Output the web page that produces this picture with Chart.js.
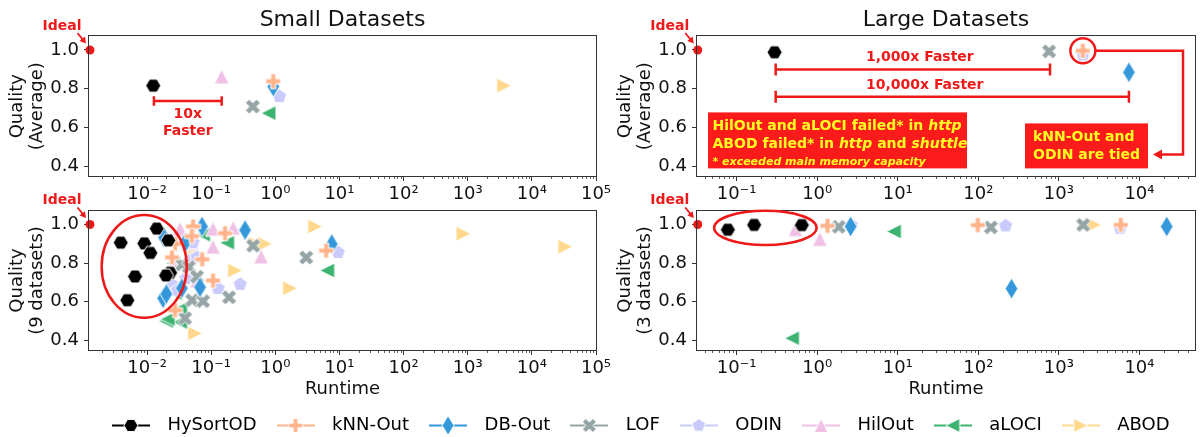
<!DOCTYPE html>
<html>
<head>
<meta charset="utf-8">
<script src="https://cdn.jsdelivr.net/npm/chart.js@4.4.1/dist/chart.umd.min.js"></script>
<style>
html,body{margin:0;padding:0;background:#fff;overflow:hidden;width:1203px;height:437px;}
body{position:relative;}
canvas{position:absolute;}
</style>
</head>
<body>
<canvas id="tl" width="620" height="205" style="left:0px;top:0px"></canvas>
<canvas id="tr" width="595" height="205" style="left:608px;top:0px"></canvas>
<canvas id="bl" width="620" height="220" style="left:0px;top:185px"></canvas>
<canvas id="br" width="595" height="220" style="left:608px;top:185px"></canvas>
<canvas id="lg" width="1203" height="100" style="left:0px;top:398px"></canvas>
<script>
// ---------------- DATA ----------------
const methods = ['HySortOD','kNN-Out','DB-Out','LOF','ODIN','HilOut','aLOCI','ABOD'];
const yTickValues = [0.4, 0.6, 0.8, 1.0];
const smallXTickValues = [1e-2, 1e-1, 1e0, 1e1, 1e2, 1e3, 1e4, 1e5];
const largeXTickValues = [1e-1, 1e0, 1e1, 1e2, 1e3, 1e4];
const idealPoint = [1.0];            // ideal quality, drawn at the fastest runtime of each axis
const smallIdealRuntime = 0.00129;
const largeIdealRuntime = 0.0329;

// Small datasets, averages (runtime s, quality)
const smallAvgRuntime = [0.0125, 0.93, 0.93, 0.446, 1.16, 0.146, 0.78, 3700];
const smallAvgQuality = [0.816, 0.839, 0.811, 0.708, 0.76, 0.863, 0.674, 0.816];
// Large datasets, averages (null = failed)
const largeAvgRuntime = [0.296, 1983, 7400, 755, 1990, null, null, null];
const largeAvgQuality = [0.988, 0.996, 0.885, 0.993, 0.975, null, null, null];

// Small datasets, per dataset (9 datasets)
const smallRuntime = [
  [0.01416, 0.00389, 0.00908, 0.0215, 0.01125, 0.0065, 0.0229, 0.0198, 0.00493],
  [0.0523, 0.0274, 0.0245, 0.107, 0.0274, 6.2, 0.05, 0.0725, 0.165],
  [0.0721, 0.338, 0.0184, 0.0392, 0.0671, 0.0178, 7.6, 0.02, 0.035],
  [0.451, 0.0352, 0.0504, 0.0748, 0.19, 0.0392, 3.03, 0.045, 0.06],
  [0.052, 0.0255, 0.128, 0.283, 9.55, 0.05, 0.04, 0.03, 0.06],
  [0.0327, 0.107, 0.22, 0.107, 0.6, 0.0603, 0.05, 0.0255, 0.128],
  [0.0748, 0.177, 0.0257, 0.0274, 0.0327, 0.0198, 0.0327, 6.43, 0.021],
  [0.0561, 0.236, 0.5, 0.693, 1.7, 4.18, 0.0561, 859, 33200]
];
const smallQuality = [
  [0.979, 0.906, 0.902, 0.918, 0.853, 0.731, 0.75, 0.736, 0.608],
  [0.99, 0.90, 0.83, 0.71, 0.556, 0.865, 0.94, 0.82, 0.955],
  [0.99, 0.971, 0.932, 0.906, 0.675, 0.618, 0.899, 0.64, 0.67],
  [0.89, 0.793, 0.608, 0.603, 0.623, 0.515, 0.829, 0.78, 0.73],
  [0.906, 0.685, 0.669, 0.69, 0.855, 0.82, 0.72, 0.66, 0.83],
  [0.978, 0.978, 0.983, 0.885, 0.834, 0.71, 0.905, 0.80, 0.69],
  [0.947, 0.906, 0.798, 0.644, 0.562, 0.5, 0.495, 0.762, 0.51],
  [0.848, 0.762, 0.9, 0.9, 0.67, 0.99, 0.436, 0.952, 0.885]
];
// Large datasets, per dataset (3 datasets; failed runs omitted)
const largeRuntime = [
  [0.0778, 0.165, 0.644],
  [1.34, 98.4, 5850],
  [2.6, 258, 21800],
  [1.85, 143, 2000],
  [2.64, 218, 5740],
  [0.535, 1.08],
  [8.96, 0.486],
  [2755]
];
const largeQuality = [
  [0.973, 0.998, 0.997],
  [0.993, 0.997, 0.998],
  [0.99, 0.668, 0.99],
  [0.988, 0.985, 0.998],
  [0.997, 0.993, 0.98],
  [0.976, 0.925],
  [0.964, 0.411],
  [0.998]
];

// ---------------- STYLE ----------------
const colors = ['#000000','#ffb48c','#3498db','#95a5a6','#cacafc','#f0c1e6','#3cb371','#ffd88c'];
const shapes = ['hex','plus','thinDiamond','xFilled','pentagon','triUp','triLeft','triRight'];
const MS = 15;
const RED = '#ee1a1a';
const BOXRED = '#fb1b1b';
const YEL = '#ffff22';
const FONT = '"DejaVu Sans"';

Chart.defaults.font.family = FONT;

function shapePath(ctx, shape, S) {
  const r = S / 2;
  ctx.beginPath();
  const poly = pts => pts.forEach((p, i) => i ? ctx.lineTo(p[0], p[1]) : ctx.moveTo(p[0], p[1]));
  switch (shape) {
    case 'hex': {
      const p = []; for (let k = 0; k < 6; k++) { const a = k * Math.PI / 3; p.push([r * Math.cos(a), r * Math.sin(a)]); } poly(p); break;
    }
    case 'pentagon': {
      const p = []; for (let k = 0; k < 5; k++) { const a = -Math.PI / 2 + k * 2 * Math.PI / 5; p.push([r * Math.cos(a), r * Math.sin(a)]); } poly(p); break;
    }
    case 'plus': {
      const q = [[1,0],[2,0],[2,1],[3,1],[3,2],[2,2],[2,3],[1,3],[1,2],[0,2],[0,1],[1,1]];
      poly(q.map(([a, b]) => [(a / 3 - 0.5) * S, (b / 3 - 0.5) * S])); break;
    }
    case 'xFilled': {
      const q = [[0.25,0],[0.5,0.25],[0.75,0],[1,0.25],[0.75,0.5],[1,0.75],[0.75,1],[0.5,0.75],[0.25,1],[0,0.75],[0.25,0.5],[0,0.25]];
      poly(q.map(([a, b]) => [(a - 0.5) * S, (b - 0.5) * S])); break;
    }
    case 'thinDiamond': poly([[0, -0.707 * S], [0.424 * S, 0], [0, 0.707 * S], [-0.424 * S, 0]]); break;
    case 'triUp': poly([[0, -r], [r, r], [-r, r]]); break;
    case 'triLeft': poly([[-r, 0], [r, -r], [r, r]]); break;
    case 'triRight': poly([[r, 0], [-r, -r], [-r, r]]); break;
  }
  ctx.closePath();
}
function markerImage(shape, color, S, lineLen) {
  const w = Math.ceil(lineLen ? lineLen : S + 6), h = Math.ceil(1.414 * S + 5);
  const c = document.createElement('canvas'); c.width = w; c.height = h;
  const g = c.getContext('2d');
  if (lineLen) { g.strokeStyle = color; g.lineWidth = 2; g.beginPath(); g.moveTo(0, h / 2); g.lineTo(w, h / 2); g.stroke(); }
  g.translate(w / 2, h / 2);
  shapePath(g, shape, S);
  g.fillStyle = color; g.fill();
  g.strokeStyle = '#ffffff'; g.lineWidth = 1; g.stroke();
  return c;
}
const markerImgs = shapes.map((s, i) => markerImage(s, colors[i], MS));
const legendImgs = shapes.map((s, i) => markerImage(s, colors[i], 14, 38));

const SUP = {'-':'\u207B','0':'\u2070','1':'\u00B9','2':'\u00B2','3':'\u00B3','4':'\u2074','5':'\u2075','6':'\u2076','7':'\u2077','8':'\u2078','9':'\u2079'};
function powLabel(v) { const e = Math.round(Math.log10(v)); return '10' + String(e).split('').map(c => SUP[c]).join(''); }

// ---------------- PLUGINS ----------------
const framePlugin = {
  id: 'frame',
  afterDraw(chart) {
    const {ctx, chartArea: a, scales: {x}} = chart;
    ctx.save();
    ctx.strokeStyle = '#333'; ctx.lineWidth = 1;
    ctx.strokeRect(Math.round(a.left) - 0.5, Math.round(a.top) - 0.5, Math.round(a.right - a.left) + 1, Math.round(a.bottom - a.top) + 1);
    ctx.lineWidth = 0.8; ctx.beginPath();
    const lo = Math.floor(Math.log10(x.min)), hi = Math.ceil(Math.log10(x.max));
    for (let k = lo; k <= hi; k++) for (let m = 2; m <= 9; m++) {
      const v = m * Math.pow(10, k);
      if (v < x.min || v > x.max) continue;
      const px = Math.round(x.getPixelForValue(v)) + 0.5;
      ctx.moveTo(px, Math.round(a.bottom)); ctx.lineTo(px, Math.round(a.bottom) + 3);
    }
    ctx.stroke();
    ctx.restore();
  }
};
function arrowHead(ctx, tx, ty, ang, len, half) {
  ctx.beginPath();
  ctx.moveTo(tx, ty);
  ctx.lineTo(tx - len * Math.cos(ang) + half * Math.sin(ang), ty - len * Math.sin(ang) - half * Math.cos(ang));
  ctx.lineTo(tx - len * Math.cos(ang) - half * Math.sin(ang), ty - len * Math.sin(ang) + half * Math.cos(ang));
  ctx.closePath(); ctx.fill();
}
function drawIdeal(ctx, X, Y, xv) {
  const px = X(xv), py = Y(1.0);
  ctx.fillStyle = RED; ctx.strokeStyle = RED;
  ctx.font = 'bold 14px ' + FONT; ctx.textAlign = 'center'; ctx.textBaseline = 'middle';
  ctx.fillText('Ideal', px - 28, py - 24);
  const sx = px - 12.5, sy = py - 17, tx = px - 4, ty = py - 6.5;
  const ang = Math.atan2(ty - sy, tx - sx);
  ctx.lineWidth = 1.8; ctx.beginPath(); ctx.moveTo(sx, sy); ctx.lineTo(tx - 5 * Math.cos(ang), ty - 5 * Math.sin(ang)); ctx.stroke();
  arrowHead(ctx, tx, ty, ang, 6, 3.5);
}
function bracket(ctx, x1, x2, y, cap) {
  ctx.strokeStyle = RED; ctx.lineWidth = 2.5;
  ctx.beginPath();
  ctx.moveTo(x1, y); ctx.lineTo(x2, y);
  ctx.moveTo(x1, y - cap); ctx.lineTo(x1, y + cap);
  ctx.moveTo(x2, y - cap); ctx.lineTo(x2, y + cap);
  ctx.stroke();
}
function ellipseBox(ctx, X, Y, x1, x2, y1, y2) {
  const a = X(x1), b = X(x2), c = Y(y1), d = Y(y2);
  ctx.strokeStyle = RED; ctx.lineWidth = 2.5;
  ctx.beginPath(); ctx.ellipse((a + b) / 2, (c + d) / 2, Math.abs(b - a) / 2, Math.abs(d - c) / 2, 0, 0, 2 * Math.PI); ctx.stroke();
}
function runs(ctx, x, y, parts, size) {
  ctx.textAlign = 'left'; ctx.textBaseline = 'middle';
  for (const [t, it] of parts) {
    ctx.font = (it ? 'italic ' : '') + 'bold ' + size + 'px ' + FONT;
    ctx.fillText(t, x, y); x += ctx.measureText(t).width;
  }
}
function annotPlugin(draw) {
  return {
    id: 'annot',
    afterDraw(chart) {
      const {ctx, chartArea: a, scales} = chart;
      const X = v => scales.x.getPixelForValue(v), Y = v => scales.y.getPixelForValue(v);
      ctx.save(); draw(ctx, X, Y, a); ctx.restore();
    }
  };
}

// ---------------- CHARTS ----------------
function scatterDatasets(runtimes, qualities, single, idealX) {
  const ds = methods.map((m, i) => {
    let pts = [];
    if (single) { if (runtimes[i] != null) pts = [{x: runtimes[i], y: qualities[i]}]; }
    else pts = runtimes[i].map((r, k) => ({x: r, y: qualities[i][k]}));
    return {label: m, data: pts, pointStyle: markerImgs[i], pointRadius: 7, pointHoverRadius: 7, backgroundColor: colors[i], borderColor: colors[i]};
  });
  ds.push({label: 'Ideal', data: idealPoint.map(q => ({x: idealX, y: q})), pointStyle: 'circle', pointRadius: 4.5, pointHoverRadius: 4.5, backgroundColor: RED, borderColor: RED, borderWidth: 0, clip: false});
  return ds;
}
function panel(id, o) {
  const tickFont = {family: FONT, size: 18};
  new Chart(document.getElementById(id), {
    type: 'scatter',
    data: {datasets: o.datasets},
    options: {
      responsive: false, animation: false, events: [],
      layout: {padding: o.pad},
      plugins: {
        legend: {display: false}, tooltip: {enabled: false},
        title: o.title ? {display: true, text: o.title, fullSize: false, padding: {top: 7, bottom: 3}, font: {family: FONT, size: 22, weight: 'normal', lineHeight: 1.2}, color: '#111'} : {display: false}
      },
      scales: {
        x: {
          type: 'logarithmic', min: o.xMin, max: o.xMax, bounds: 'data', position: 'bottom',
          afterBuildTicks: s => { s.ticks = o.xTicks.map(v => ({value: v})); },
          afterFit: s => { s.height = o.xH; s.paddingLeft = 0; s.paddingRight = 0; },
          ticks: {callback: v => powLabel(v), font: tickFont, color: '#111', padding: 3, maxRotation: 0, autoSkip: false},
          grid: {drawOnChartArea: false, drawTicks: true, tickLength: 5, tickColor: '#333', tickWidth: 1},
          border: {display: false},
          title: o.xTitle ? {display: true, text: o.xTitle, font: {family: FONT, size: 18, lineHeight: 1.2}, color: '#111', padding: {top: 0, bottom: 2}} : {display: false}
        },
        y: {
          type: 'linear', min: 0.35, max: 1.07, position: 'left',
          afterBuildTicks: s => { s.ticks = yTickValues.map(v => ({value: v})); },
          afterFit: s => { s.width = 89; s.paddingTop = 0; s.paddingBottom = 0; },
          ticks: {callback: v => Number(v).toFixed(1), font: tickFont, color: '#111', padding: 5},
          grid: {drawOnChartArea: false, drawTicks: true, tickLength: 5, tickColor: '#333', tickWidth: 1},
          border: {display: false},
          title: {display: true, text: o.yTitle, font: {family: FONT, size: 18, lineHeight: 1.11}, color: '#111', padding: {top: 7, bottom: 0}}
        }
      }
    },
    plugins: [framePlugin, annotPlugin(o.annot)]
  });
}

const smallXMin = 0.001245, smallXMax = 1e5, largeXMin = 0.0322, largeXMax = 48900;

panel('tl', {
  datasets: scatterDatasets(smallAvgRuntime, smallAvgQuality, true, smallIdealRuntime),
  pad: {left: 0, right: 24, top: 0, bottom: 0}, title: 'Small Datasets', yTitle: ['Quality', '(Average)'],
  xMin: smallXMin, xMax: smallXMax, xTicks: smallXTickValues, xH: 29,
  annot: (ctx, X, Y, a) => {
    drawIdeal(ctx, X, Y, smallIdealRuntime);
    const x1 = X(0.0128), x2 = X(0.146), y = Y(0.737);
    bracket(ctx, x1, x2, y, 4.7);
    ctx.fillStyle = RED; ctx.font = 'bold 14px ' + FONT; ctx.textAlign = 'center'; ctx.textBaseline = 'middle';
    ctx.fillText('10x', (x1 + x2) / 2, y + 13);
    ctx.fillText('Faster', (x1 + x2) / 2, y + 30.5);
  }
});

panel('tr', {
  datasets: scatterDatasets(largeAvgRuntime, largeAvgQuality, true, largeIdealRuntime),
  pad: {left: 0, right: 1, top: 0, bottom: 0}, title: 'Large Datasets', yTitle: ['Quality', '(Average)'],
  xMin: largeXMin, xMax: largeXMax, xTicks: largeXTickValues, xH: 29,
  annot: (ctx, X, Y, a) => {
    drawIdeal(ctx, X, Y, largeIdealRuntime);
    const y1 = Y(0.899), y2 = Y(0.759);
    bracket(ctx, X(0.305), X(776), y1, 6);
    bracket(ctx, X(0.305), X(7400), y2, 6);
    ctx.fillStyle = RED; ctx.font = 'bold 14px ' + FONT; ctx.textAlign = 'center'; ctx.textBaseline = 'middle';
    ctx.fillText('1,000x Faster', X(18.8), y1 - 12);
    ctx.fillText('10,000x Faster', X(21.6), y2 - 11.5);
    // failure note box
    const bx = a.left + 11, by = a.top + 76;
    ctx.fillStyle = BOXRED; ctx.fillRect(bx, by, 259, 56);
    ctx.fillStyle = YEL;
    runs(ctx, bx + 4.5, by + 14, [['HilOut and aLOCI failed* in ', false], ['http', true]], 14);
    runs(ctx, bx + 4.5, by + 32, [['ABOD failed* in ', false], ['http', true], [' and ', false], ['shuttle', true]], 14);
    runs(ctx, bx + 4.5, by + 50, [['* exceeded main memory capacity', true]], 11);
    // tie box
    const tx = a.left + 328, ty = a.top + 87;
    ctx.fillStyle = BOXRED; ctx.fillRect(tx, ty, 123, 45);
    ctx.fillStyle = YEL;
    runs(ctx, tx + 8, ty + 13.7, [['kNN-Out and', false]], 14);
    runs(ctx, tx + 8, ty + 32, [['ODIN are tied', false]], 14);
    // circle + connector
    const cx = X(1983), cy = Y(0.996), r = 12.5;
    ctx.strokeStyle = RED; ctx.lineWidth = 2.5;
    ctx.beginPath(); ctx.arc(cx, cy, r, 0, 2 * Math.PI); ctx.stroke();
    const vx = a.left + 486, ly = a.top + 118, tipx = a.left + 456;
    ctx.beginPath(); ctx.moveTo(cx + r, cy); ctx.lineTo(vx, cy); ctx.lineTo(vx, ly); ctx.lineTo(tipx + 8, ly); ctx.stroke();
    ctx.fillStyle = RED; arrowHead(ctx, tipx, ly, Math.PI, 9, 5);
  }
});

panel('bl', {
  datasets: scatterDatasets(smallRuntime, smallQuality, false, smallIdealRuntime),
  pad: {left: 0, right: 24, top: 26, bottom: 3}, title: null, yTitle: ['Quality', '(9 datasets)'], xTitle: 'Runtime',
  xMin: smallXMin, xMax: smallXMax, xTicks: smallXTickValues, xH: 52,
  annot: (ctx, X, Y, a) => {
    drawIdeal(ctx, X, Y, smallIdealRuntime);
    ellipseBox(ctx, X, Y, 0.00196, 0.0416, 0.517, 1.049);
  }
});

panel('br', {
  datasets: scatterDatasets(largeRuntime, largeQuality, false, largeIdealRuntime),
  pad: {left: 0, right: 1, top: 26, bottom: 3}, title: null, yTitle: ['Quality', '(3 datasets)'], xTitle: 'Runtime',
  xMin: largeXMin, xMax: largeXMax, xTicks: largeXTickValues, xH: 52,
  annot: (ctx, X, Y, a) => {
    drawIdeal(ctx, X, Y, largeIdealRuntime);
    ellipseBox(ctx, X, Y, 0.0525, 0.983, 0.894, 1.0716);
  }
});

// Legend
new Chart(document.getElementById('lg'), {
  type: 'scatter',
  data: {datasets: methods.map((m, i) => ({label: m, data: []}))},
  options: {
    responsive: false, animation: false, events: [],
    layout: {padding: {left: 70, top: 7, right: 0, bottom: 0}},
    scales: {x: {display: false}, y: {display: false}},
    plugins: {
      tooltip: {enabled: false},
      legend: {
        display: true, position: 'top', maxHeight: 60,
        labels: {
          usePointStyle: true, pointStyleWidth: 55, padding: 11.5, color: '#111',
          font: {family: FONT, size: 18},
          generateLabels: () => methods.map((m, i) => ({text: m, pointStyle: legendImgs[i], fillStyle: colors[i], strokeStyle: colors[i], lineWidth: 0, hidden: false, datasetIndex: i}))
        }
      }
    }
  }
});
</script>
</body>
</html>
